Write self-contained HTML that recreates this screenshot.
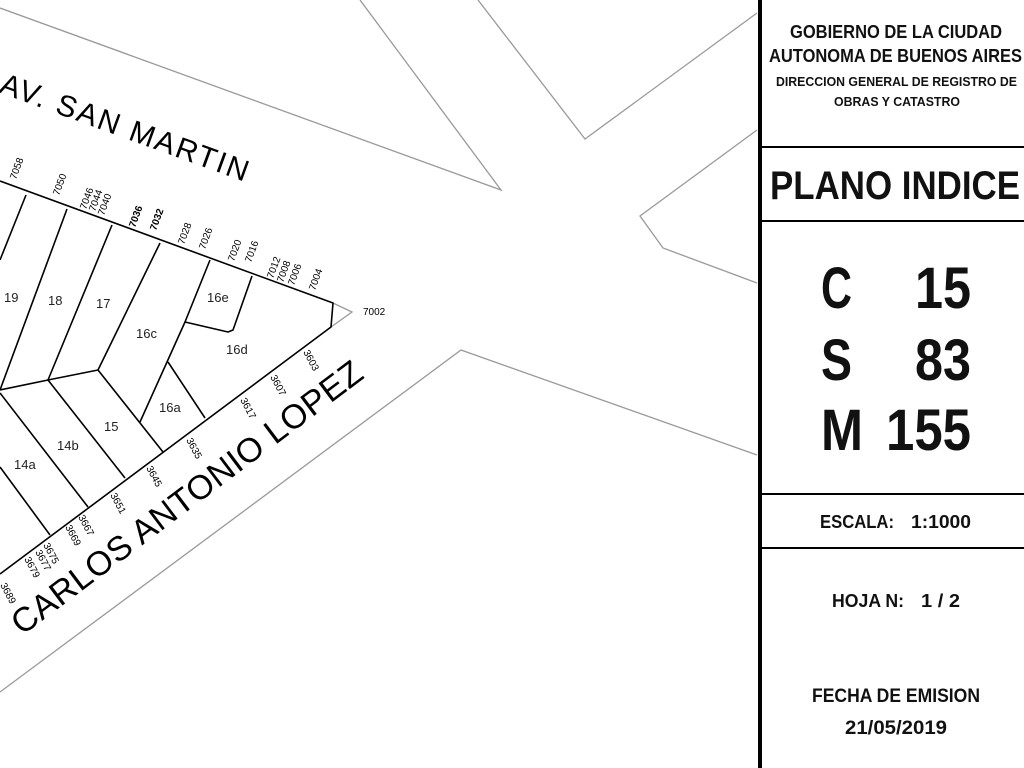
<!DOCTYPE html>
<html><head><meta charset="utf-8"><style>
html,body{margin:0;padding:0;background:#fff;width:1024px;height:768px;overflow:hidden}
svg{display:block}
.n{font-family:"Liberation Sans Narrow","Liberation Sans",sans-serif;font-size:10px;fill:#000}
.l{font-family:"Liberation Sans",sans-serif;font-size:13px;fill:#222}
.t{font-family:"Liberation Sans Narrow","Liberation Sans",sans-serif;font-weight:bold;fill:#111}
</style></head><body>
<svg width="1024" height="768" viewBox="0 0 1024 768" xmlns="http://www.w3.org/2000/svg">
<g stroke="#999" stroke-width="1.3" fill="none">
<polyline points="0,8 501,190 360,0"/>
<polyline points="478,0 585,139 757,13"/>
<polyline points="757,130 640,216 663,248 757,283"/>
<polyline points="0,692 461,350 757,455"/>
<polyline points="333,303 352,312 331,327"/>
</g>
<g stroke="#000" stroke-width="1.6" fill="none" stroke-linejoin="round">
<polyline points="0,181 333,303 331,327 0,574"/>
<line x1="26" y1="195" x2="0" y2="260"/>
<line x1="67" y1="209" x2="0" y2="390"/>
<line x1="112" y1="225" x2="48" y2="380"/>
<line x1="160" y1="243" x2="98" y2="370"/>
<polyline points="210,260 185,322 140,422"/>
<polyline points="252,276 233,330 228,332 185,322"/>
<line x1="168" y1="362" x2="205" y2="418"/>
<polyline points="0,390 48,380 98,370"/>
<line x1="98" y1="370" x2="163" y2="452"/>
<line x1="48" y1="380" x2="125" y2="478"/>
<line x1="0" y1="393" x2="88" y2="507"/>
<line x1="0" y1="467" x2="50" y2="535"/>
</g>
<g class="l">
<text x="4" y="302">19</text><text x="48" y="305">18</text><text x="96" y="308">17</text>
<text x="136" y="338">16c</text><text x="207" y="302">16e</text><text x="226" y="354">16d</text>
<text x="159" y="412">16a</text><text x="104" y="431">15</text><text x="57" y="450">14b</text>
<text x="14" y="469">14a</text>
</g>
<g class="n">
<text transform="translate(16,180) rotate(-70)">7058</text>
<text transform="translate(59,196) rotate(-70)">7050</text>
<text transform="translate(86,210) rotate(-70)">7046</text>
<text transform="translate(95,212) rotate(-70)">7044</text>
<text transform="translate(104,216) rotate(-70)">7040</text>
<text transform="translate(135,228) rotate(-70)" font-weight="bold">7036</text>
<text transform="translate(156,231) rotate(-70)" font-weight="bold">7032</text>
<text transform="translate(184,245) rotate(-70)">7028</text>
<text transform="translate(205,250) rotate(-70)">7026</text>
<text transform="translate(234,262) rotate(-70)">7020</text>
<text transform="translate(251,263) rotate(-70)">7016</text>
<text transform="translate(273,279) rotate(-70)">7012</text>
<text transform="translate(283,283) rotate(-70)">7008</text>
<text transform="translate(294,286) rotate(-70)">7006</text>
<text transform="translate(315,291) rotate(-70)">7004</text>
<text x="363" y="315">7002</text>
<text transform="translate(303,352) rotate(62)">3603</text>
<text transform="translate(270,377) rotate(62)">3607</text>
<text transform="translate(240,400) rotate(62)">3617</text>
<text transform="translate(186,440) rotate(62)">3635</text>
<text transform="translate(146,468) rotate(62)">3645</text>
<text transform="translate(110,495) rotate(62)">3651</text>
<text transform="translate(78,517) rotate(62)">3667</text>
<text transform="translate(65,527) rotate(62)">3669</text>
<text transform="translate(43,545) rotate(62)">3675</text>
<text transform="translate(35,552) rotate(62)">3677</text>
<text transform="translate(24,559) rotate(62)">3679</text>
<text transform="translate(0,585) rotate(62)">3689</text>
</g>
<text transform="translate(-2,92) rotate(20)" font-family="Liberation Sans,sans-serif" font-size="30" fill="#000" textLength="262">AV. SAN MARTIN</text>
<text transform="translate(22,636) rotate(-37)" font-family="Liberation Sans,sans-serif" font-size="34" fill="#000" textLength="430">CARLOS ANTONIO LOPEZ</text>
<rect x="758" y="0" width="4" height="768" fill="#000"/>
<g stroke="#000" stroke-width="2">
<line x1="762" y1="147" x2="1024" y2="147"/>
<line x1="762" y1="221" x2="1024" y2="221"/>
<line x1="762" y1="494" x2="1024" y2="494"/>
<line x1="762" y1="548" x2="1024" y2="548"/>
</g>
<g class="t">
<text x="790" y="38" font-size="18" textLength="212" lengthAdjust="spacingAndGlyphs">GOBIERNO DE LA CIUDAD</text>
<text x="769" y="62" font-size="18" textLength="253" lengthAdjust="spacingAndGlyphs">AUTONOMA DE BUENOS AIRES</text>
<text x="776" y="86" font-size="13" textLength="241" lengthAdjust="spacingAndGlyphs">DIRECCION GENERAL DE REGISTRO DE</text>
<text x="834" y="106" font-size="13" textLength="126" lengthAdjust="spacingAndGlyphs">OBRAS Y CATASTRO</text>
<text x="770" y="199" font-size="40" textLength="250" lengthAdjust="spacingAndGlyphs">PLANO INDICE</text>
<text x="821" y="308" font-size="58" textLength="31" lengthAdjust="spacingAndGlyphs">C</text>
<text x="915" y="308" font-size="58" textLength="56" lengthAdjust="spacingAndGlyphs">15</text>
<text x="821" y="380" font-size="58" textLength="31" lengthAdjust="spacingAndGlyphs">S</text>
<text x="915" y="380" font-size="58" textLength="56" lengthAdjust="spacingAndGlyphs">83</text>
<text x="821" y="450" font-size="58" textLength="42" lengthAdjust="spacingAndGlyphs">M</text>
<text x="886" y="450" font-size="58" textLength="85" lengthAdjust="spacingAndGlyphs">155</text>
<text x="820" y="528" font-size="18" textLength="74" lengthAdjust="spacingAndGlyphs">ESCALA:</text>
<text x="911" y="528" font-size="18" textLength="60" lengthAdjust="spacingAndGlyphs">1:1000</text>
<text x="832" y="607" font-size="18" textLength="72" lengthAdjust="spacingAndGlyphs">HOJA N:</text>
<text x="921" y="607" font-size="18" textLength="39" lengthAdjust="spacingAndGlyphs">1 / 2</text>
<text x="812" y="702" font-size="19" textLength="168" lengthAdjust="spacingAndGlyphs">FECHA DE EMISION</text>
<text x="845" y="734" font-size="19" textLength="102" lengthAdjust="spacingAndGlyphs">21/05/2019</text>
</g>
</svg>
</body></html>
